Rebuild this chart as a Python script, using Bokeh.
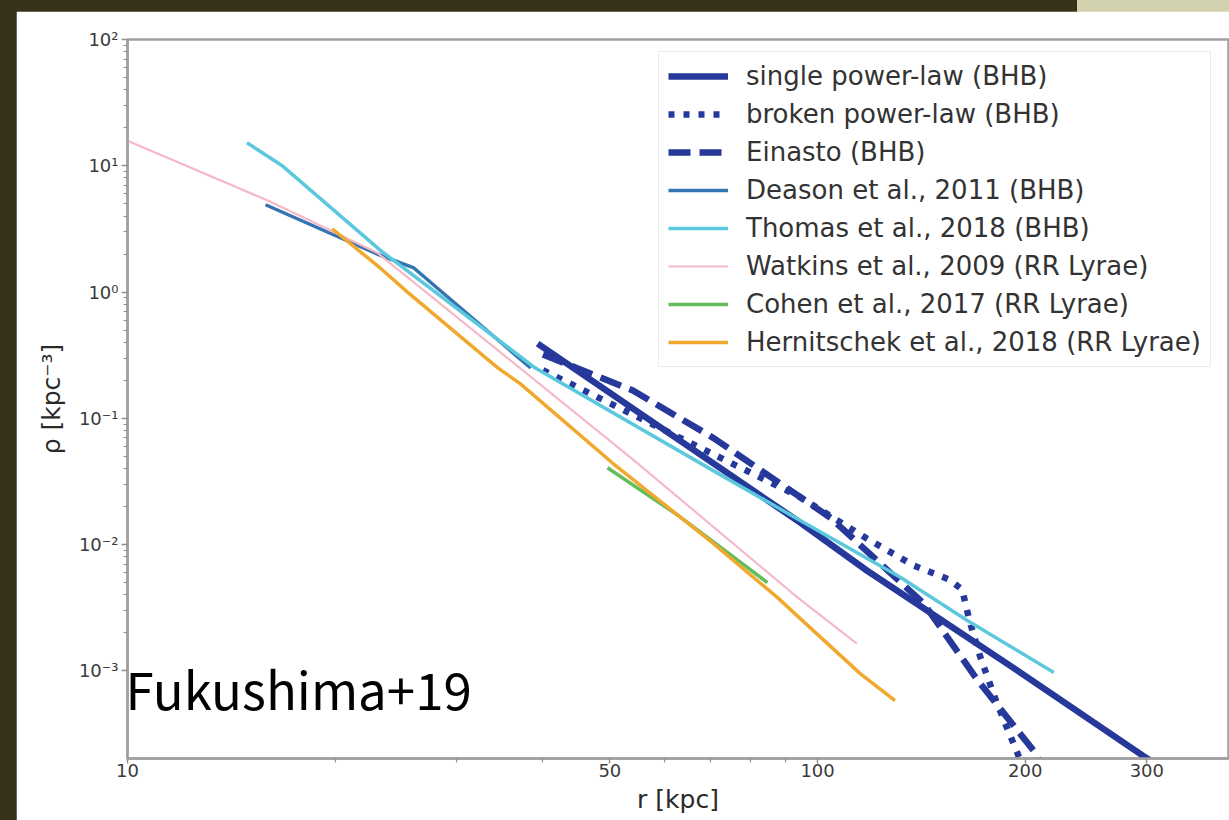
from bokeh.plotting import figure
from bokeh.layouts import column
from bokeh.models import FixedTicker, Range1d, Label, Legend, LegendItem
from bokeh.embed import file_html
from bokeh.resources import INLINE

# ---------------- data ----------------
single_r = [39.3, 94.4, 118.0, 192.0, 296.0, 310.0]
single_rho = [0.39, 0.0149, 0.0062, 0.00106, 0.000213, 0.000180]

broken_r = [40.0, 94.0, 118.0, 138.0, 155.0, 162.0, 166.0, 172.0, 182.0, 195.0, 205.0]
broken_rho = [0.24, 0.024, 0.0111, 0.0068, 0.0053, 0.0044, 0.0025, 0.0013, 0.00055, 0.00022, 0.00011]

einasto_r = [40.0, 54.0, 70.6, 104.4, 142.6, 170.6, 205.6, 220.0]
einasto_rho = [0.32, 0.166, 0.070, 0.0163, 0.0034, 0.00084, 0.000233, 0.00012]

deason_r = [15.85, 23.0, 26.0, 38.4]
deason_rho = [4.91, 2.0, 1.55, 0.25]

thomas_r = [14.9, 16.8, 23.3, 39.0, 70.6, 94.4, 131.8, 164.8, 220.0]
thomas_rho = [15.2, 9.9, 2.12, 0.25, 0.0385, 0.0155, 0.0055, 0.0025, 0.00097]

watkins_r = [10.0, 16.0, 23.0, 53.6, 93.6, 114.0]
watkins_rho = [15.8, 5.28, 2.05, 0.0488, 0.0038, 0.00164]

cohen_r = [49.6, 63.0, 84.6]
cohen_rho = [0.0406, 0.0168, 0.00499]

hern_r = [19.8, 23.3, 25.5, 34.4, 37.1, 50.6, 70.6, 87.5, 94.4, 115.3, 129.5]
hern_rho = [3.17, 1.53, 0.99, 0.251, 0.1875, 0.0436, 0.0102, 0.0038, 0.00259, 0.00095, 0.00058]

x_ticks = [10, 50, 100, 200, 300]
x_tick_labels = ["10", "50", "100", "200", "300"]
x_minor = [20, 30, 40, 60, 70, 80, 90]
y_ticks = [0.001, 0.01, 0.1, 1, 10, 100]
y_tick_labels = ["10\u207b\u00b3", "10\u207b\u00b2", "10\u207b\u00b9", "10\u2070", "10\u00b9", "10\u00b2"]

labels = ["single power-law (BHB)", "broken power-law (BHB)", "Einasto (BHB)",
          "Deason et al., 2011 (BHB)", "Thomas et al., 2018 (BHB)",
          "Watkins et al., 2009 (RR Lyrae)", "Cohen et al., 2017 (RR Lyrae)",
          "Hernitschek et al., 2018 (RR Lyrae)"]

# ---------------- styling ----------------
NAVY = "#26399b"
DEASON = "#3474b0"
THOMAS = "#5bc8dd"
WATKINS = "#f5b8c9"
COHEN = "#63bd5a"
HERN = "#f0a92e"
OLIVE = "#37331b"
KHAKI = "#d3d2ae"
FONT = "DejaVu Sans"

p = figure(width=1213, height=809, x_axis_type="log", y_axis_type="log",
           x_range=Range1d(10, 394), y_range=Range1d(2.02e-4, 100),
           output_backend="svg", toolbar_location=None,
           min_border_left=111, min_border_top=28, min_border_right=1, min_border_bottom=62,
           background_fill_color="white", border_fill_color="white",
           margin=(11, 0, 0, 16))

p.xgrid.visible = False
p.ygrid.visible = False
p.outline_line_color = "#a0a0a0"
p.outline_line_width = 2.5

p.xaxis.ticker = FixedTicker(ticks=x_ticks, minor_ticks=x_minor)
p.xaxis.major_label_overrides = {t: s for t, s in zip(x_ticks, x_tick_labels)}
y_minor = [m * t for t in y_ticks[:-1] for m in range(2, 10)]
p.yaxis.ticker = FixedTicker(ticks=y_ticks, minor_ticks=y_minor)
p.yaxis.major_label_overrides = {t: s for t, s in zip(y_ticks, y_tick_labels)}

for ax in (p.xaxis[0], p.yaxis[0]):
    ax.axis_line_color = "#a0a0a0"
    ax.axis_line_width = 2.5
    ax.major_tick_line_color = "#909090"
    ax.minor_tick_line_color = "#909090"
    ax.major_tick_line_width = 1.5
    ax.minor_tick_line_width = 1.2
    ax.major_tick_in = 0
    ax.minor_tick_in = 0
    ax.minor_tick_out = 4
    ax.major_label_text_font = FONT
    ax.major_label_text_font_size = "18px"
    ax.major_label_text_color = "#3a3a3a"
    ax.axis_label_text_font = FONT
    ax.axis_label_text_font_style = "normal"
    ax.axis_label_text_color = "#2a2a2a"
    ax.axis_label_text_font_size = "25px"

p.xaxis.major_tick_out = 5
p.xaxis.major_label_standoff = 0
p.xaxis.axis_label = "r [kpc]"
p.xaxis.axis_label_standoff = 5
p.yaxis.major_tick_out = 6
p.yaxis.major_label_standoff = 3
p.yaxis.axis_label = "\u03c1 [kpc\u207b\u00b3]"
p.yaxis.axis_label_standoff = 10

r1 = p.line(single_r, single_rho, line_color=NAVY, line_width=6.5)
r2 = p.line(broken_r, broken_rho, line_color=NAVY, line_width=6.5, line_dash="6 9")
r3 = p.line(einasto_r, einasto_rho, line_color=NAVY, line_width=6.5, line_dash="22 9")
r4 = p.line(deason_r, deason_rho, line_color=DEASON, line_width=3.5)
r5 = p.line(thomas_r, thomas_rho, line_color=THOMAS, line_width=3.5)
r6 = p.line(watkins_r, watkins_rho, line_color=WATKINS, line_width=2.2)
r7 = p.line(cohen_r, cohen_rho, line_color=COHEN, line_width=3.5)
r8 = p.line(hern_r, hern_rho, line_color=HERN, line_width=3.5)

items = [LegendItem(label=l, renderers=[r]) for l, r in zip(labels, [r1, r2, r3, r4, r5, r6, r7, r8])]
legend = Legend(items=items, location=(531, 391),
                label_text_font=FONT, label_text_font_size="26px", label_text_color="#333333",
                glyph_width=60, glyph_height=30, label_height=30, label_standoff=18,
                spacing=8, padding=9, margin=0,
                border_line_color="#d8d8d8", border_line_width=1.5,
                background_fill_color="white", background_fill_alpha=0.85)
p.add_layout(legend, "center")

p.add_layout(Label(x=10, y=7.36e-4, text="Fukushima+19", text_font="Noto Sans CJK JP",
                   text_font_size="51px", text_color="black", text_baseline="alphabetic",
                   text_align="left", x_offset=-2))

page = column(p, styles={"background": f"linear-gradient(to right, {OLIVE} 1077px, {KHAKI} 1077px)"})

open("out.html", "w").write(file_html(page, INLINE))
